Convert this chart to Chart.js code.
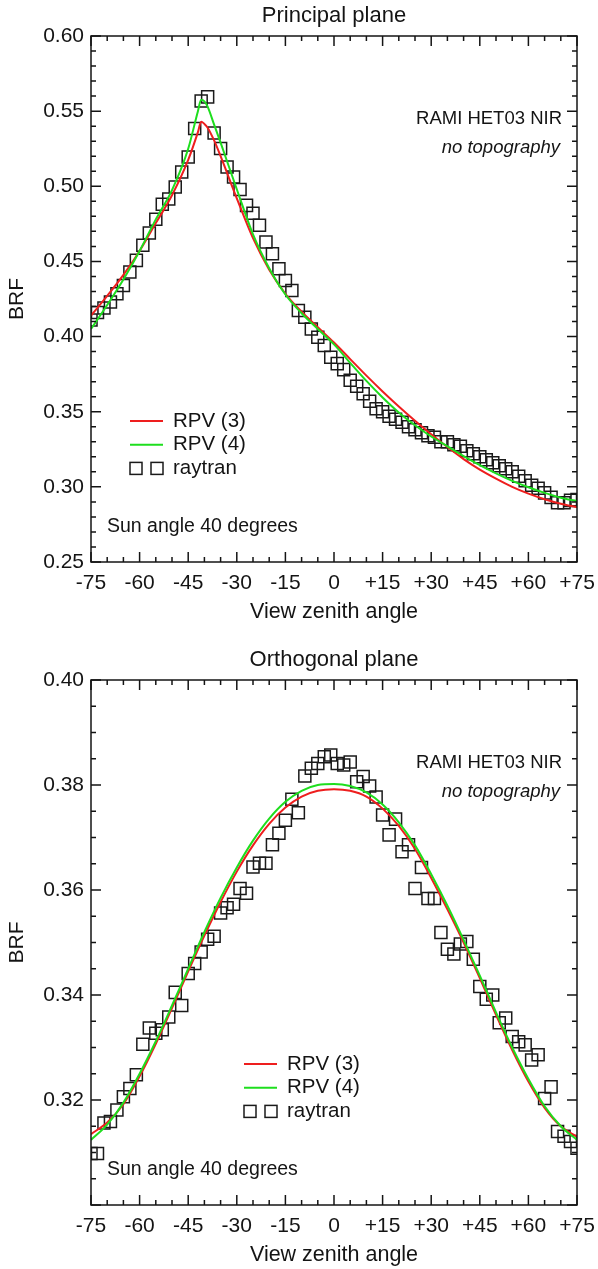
<!DOCTYPE html>
<html>
<head>
<meta charset="utf-8">
<title>RAMI HET03 NIR – RPV fits vs raytran</title>
<script src="https://cdn.jsdelivr.net/npm/chart.js@4.4.0/dist/chart.umd.min.js"></script>
<style>
  html, body { margin: 0; padding: 0; background: #fff; }
  .panel { position: absolute; left: 0; width: 598px; }
  canvas { display: block; }
</style>
</head>
<body>
<div class="panel" style="top:0;height:634px"><canvas id="principal" width="598" height="634"></canvas></div>
<div class="panel" style="top:634px;height:635px"><canvas id="orthogonal" width="598" height="635"></canvas></div>
<script>
'use strict';

/* ── Axis ticks ── */
const xTickValues = [-75, -60, -45, -30, -15, 0, 15, 30, 45, 60, 75];
const xTickLabels = ['-75', '-60', '-45', '-30', '-15', '0', '+15', '+30', '+45', '+60', '+75'];
const ppYTickValues = [0.25, 0.30, 0.35, 0.40, 0.45, 0.50, 0.55, 0.60];
const ppYTickLabels = ['0.25', '0.30', '0.35', '0.40', '0.45', '0.50', '0.55', '0.60'];
const opYTickValues = [0.30, 0.32, 0.34, 0.36, 0.38, 0.40];
const opYTickLabels = ['', '0.32', '0.34', '0.36', '0.38', '0.40'];

/* ── Principal plane ── */
const ppCurveAngle = [-75, -70, -65, -60, -55, -50, -45, -42, -41, -40, -39, -37, -35, -30, -25, -20, -15, -10, -5, 0,
                      5, 10, 15, 20, 25, 30, 35, 40, 45, 50, 55, 60, 65, 70, 75];
const ppRpv3 = [0.414, 0.427, 0.441, 0.457, 0.4755, 0.494, 0.5175, 0.536, 0.543, 0.5415, 0.539, 0.5305, 0.520, 0.492,
                0.4655, 0.4445, 0.4285, 0.4165, 0.4062, 0.396, 0.385, 0.374, 0.3635, 0.3535, 0.344, 0.335, 0.3265,
                0.3185, 0.3115, 0.3055, 0.300, 0.2955, 0.2918, 0.2888, 0.2865];
const ppRpv4 = [0.405, 0.421, 0.438, 0.457, 0.478, 0.4975, 0.525, 0.550, 0.5575, 0.5565, 0.553, 0.541, 0.529, 0.498,
                0.468, 0.4455, 0.428, 0.4155, 0.405, 0.3948, 0.3825, 0.3705, 0.3595, 0.3495, 0.341, 0.3335, 0.327,
                0.3205, 0.3145, 0.309, 0.304, 0.2997, 0.296, 0.2928, 0.2905];

const rayAngle = [-75, -73, -71, -69, -67, -65, -63, -61, -59, -57, -55, -53, -51, -49, -47, -45, -43, -41, -39, -37,
                  -35, -33, -31, -29, -27, -25, -23, -21, -19, -17, -15, -13, -11, -9, -7, -5, -3, -1,
                  1, 3, 5, 7, 9, 11, 13, 15, 17, 19, 21, 23, 25, 27, 29, 31, 33, 35, 37, 39,
                  41, 43, 45, 47, 49, 51, 53, 55, 57, 59, 61, 63, 65, 67, 69, 71, 73, 75];
const ppRaytran = [0.411, 0.416, 0.419, 0.423, 0.4285, 0.434, 0.443, 0.4507, 0.4607, 0.4689, 0.478, 0.488, 0.4915,
                   0.4995, 0.5095, 0.5195, 0.5385, 0.5567, 0.5595, 0.5355, 0.5251, 0.5129, 0.5062, 0.4978, 0.4873,
                   0.482, 0.474, 0.4629, 0.4551, 0.4451, 0.4373, 0.4307, 0.4173, 0.4129, 0.4051, 0.3995, 0.394, 0.3862,
                   0.382, 0.378, 0.371, 0.367, 0.362, 0.357, 0.352, 0.350, 0.347, 0.345, 0.343, 0.340, 0.338, 0.336,
                   0.334, 0.333, 0.330, 0.330, 0.328, 0.327, 0.324, 0.322, 0.320, 0.318, 0.316, 0.314, 0.312, 0.310,
                   0.307, 0.304, 0.301, 0.299, 0.296, 0.293, 0.2895, 0.2895, 0.291, 0.2915];

/* ── Orthogonal plane ── */
const opCurveAngle = [-75, -70, -65, -60, -55, -50, -45, -40, -35, -30, -25, -20, -15, -10, -5, 0,
                      5, 10, 15, 20, 25, 30, 35, 40, 45, 50, 55, 60, 65, 70, 75];
const opRpv3 = [0.3135, 0.3157, 0.3192, 0.3245, 0.3307, 0.3375, 0.3445, 0.3513, 0.3577, 0.3635, 0.3685, 0.3726,
                0.3757, 0.3778, 0.3789, 0.3792, 0.3789, 0.3778, 0.3755, 0.3722, 0.3678, 0.3623, 0.3563, 0.3500,
                0.3432, 0.3362, 0.3295, 0.3235, 0.3185, 0.3150, 0.3130];
const opRpv4 = [0.3124, 0.3153, 0.3195, 0.3250, 0.3312, 0.3380, 0.3450, 0.3520, 0.3585, 0.3643, 0.3694, 0.3736,
                0.3768, 0.3789, 0.3800, 0.3802, 0.3798, 0.3786, 0.3763, 0.3729, 0.3685, 0.3630, 0.3570, 0.3505,
                0.3437, 0.3367, 0.3300, 0.3240, 0.3188, 0.3150, 0.3124];
const opRaytran = [0.3098, 0.3098, 0.3156, 0.3159, 0.3181, 0.3206, 0.3222, 0.3248, 0.3306, 0.3337, 0.3327, 0.3334,
                   0.3358, 0.3405, 0.338, 0.3441, 0.346, 0.3482, 0.3506, 0.3512, 0.3556, 0.3566, 0.3573, 0.3603,
                   0.3594, 0.3644, 0.3651, 0.3651, 0.3686, 0.3708, 0.3733, 0.3773, 0.3747, 0.3817, 0.3832, 0.3841,
                   0.3854, 0.3857, 0.3841, 0.3838, 0.3844, 0.3806, 0.3816, 0.3798, 0.3777, 0.3743, 0.3705, 0.3735,
                   0.3673, 0.3686, 0.3603, 0.3643, 0.3584, 0.3584, 0.3519, 0.3487, 0.3478, 0.3497, 0.3502, 0.3468,
                   0.3416, 0.3392, 0.34, 0.3347, 0.3356, 0.3321, 0.3311, 0.3305, 0.3276, 0.3286, 0.3203, 0.3225,
                   0.314, 0.3131, 0.3121, 0.3108];

/* ── Style ── */
const INK   = '#141414';
const RED   = 'rgb(238,30,30)';
const GREEN = 'rgb(30,222,30)';
const FONT  = "'Liberation Sans', Arial, Helvetica, sans-serif";

function pairs(xs, ys) {
  return xs.map((x, i) => ({ x, y: ys[i] }));
}

/* ── Box with inward major/minor ticks on all four sides ── */
const frameTicks = {
  id: 'frameTicks',
  afterDatasetsDraw(chart, args, o) {
    const { ctx, chartArea: a, scales: { x, y } } = chart;
    ctx.save();
    ctx.strokeStyle = INK;
    ctx.lineWidth = 1.5;
    ctx.beginPath();

    const nx = Math.round((x.max - x.min) / o.xMinor);
    for (let i = 0; i <= nx; i++) {
      const px = x.getPixelForValue(x.min + i * o.xMinor);
      const len = i % o.xEvery === 0 ? 10 : 5;
      ctx.moveTo(px, a.bottom); ctx.lineTo(px, a.bottom - len);
      ctx.moveTo(px, a.top);    ctx.lineTo(px, a.top + len);
    }

    const ny = Math.round((y.max - y.min) / o.yMinor);
    for (let i = 0; i <= ny; i++) {
      const py = y.getPixelForValue(y.min + i * o.yMinor);
      const len = i % o.yEvery === 0 ? 10 : 5;
      ctx.moveTo(a.left, py);  ctx.lineTo(a.left + len, py);
      ctx.moveTo(a.right, py); ctx.lineTo(a.right - len, py);
    }
    ctx.stroke();
    ctx.strokeRect(a.left, a.top, a.width, a.height);
    ctx.restore();
  }
};

/* ── Title, annotations + in-plot legend ── */
const notes = {
  id: 'notes',
  afterDraw(chart, args, o) {
    const { ctx, chartArea: a } = chart;
    ctx.save();
    ctx.fillStyle = INK;

    // panel title, centred on the plot box
    ctx.textAlign = 'center';
    ctx.textBaseline = 'alphabetic';
    ctx.font = `22px ${FONT}`;
    ctx.fillText(o.title, (a.left + a.right) / 2, a.top - 14);

    ctx.textAlign = 'right';
    ctx.font = `18.5px ${FONT}`;
    ctx.fillText('RAMI HET03 NIR', a.right - 15, a.top + 88);
    ctx.font = `italic 18.5px ${FONT}`;
    ctx.fillText('no topography', a.right - 17, a.top + 117);

    ctx.textAlign = 'left';
    ctx.textBaseline = 'middle';
    ctx.font = `19.5px ${FONT}`;
    ctx.fillText('Sun angle 40 degrees', a.left + 16, a.bottom - 35);

    // legend
    ctx.font = `20.5px ${FONT}`;
    const x0 = o.legendX, x1 = o.legendX + 33;
    chart.data.datasets.forEach((ds, i) => {
      const yy = a.bottom - 141 + i * 23.7;
      if (ds.showLine === false) {
        ctx.strokeStyle = ds.pointBorderColor;
        ctx.lineWidth = ds.pointBorderWidth;
        const s = 12;
        ctx.strokeRect(x0 + 6 - s / 2, yy - s / 2, s, s);
        ctx.strokeRect(x1 - 6 - s / 2, yy - s / 2, s, s);
      } else {
        ctx.strokeStyle = ds.borderColor;
        ctx.lineWidth = ds.borderWidth;
        ctx.beginPath();
        ctx.moveTo(x0, yy); ctx.lineTo(x1, yy);
        ctx.stroke();
      }
      ctx.fillText(ds.label, x1 + 10, yy);
    });
    ctx.restore();
  }
};

function buildPanel(id, cfg) {
  return new Chart(document.getElementById(id), {
    type: 'line',
    data: {
      datasets: [
        { label: 'RPV (3)', data: pairs(cfg.curveAngle, cfg.rpv3), borderColor: RED, borderWidth: 2,
          pointRadius: 0, cubicInterpolationMode: 'monotone', order: 2, clip: 0 },
        { label: 'RPV (4)', data: pairs(cfg.curveAngle, cfg.rpv4), borderColor: GREEN, borderWidth: 2,
          pointRadius: 0, cubicInterpolationMode: 'monotone', order: 1, clip: 0 },
        { label: 'raytran', data: pairs(rayAngle, cfg.raytran), showLine: false, pointStyle: 'rect',
          pointRadius: 8.5, pointBorderWidth: 1.5, pointBorderColor: '#1a1a1a',
          pointBackgroundColor: 'rgba(0,0,0,0)', order: 3, clip: 0 },
      ],
    },
    options: {
      responsive: false,
      animation: false,
      devicePixelRatio: 1,
      events: [],
      layout: { padding: { left: 0, right: 21, top: cfg.plotTop, bottom: 0 } },
      plugins: {
        legend:  { display: false },
        tooltip: { enabled: false },
        title:   { display: false },
        frameTicks: { xMinor: 5, xEvery: 3, yMinor: cfg.yMinor, yEvery: cfg.yEvery },
        notes: { title: cfg.title, legendX: cfg.legendX },
      },
      scales: {
        x: {
          type: 'linear',
          min: -75,
          max: 75,
          afterBuildTicks: s => { s.ticks = xTickValues.map(v => ({ value: v })); },
          afterFit: s => { s.height = cfg.xAxisHeight; s.paddingLeft = 0; s.paddingRight = 0; },
          grid:   { display: false, drawTicks: false },
          border: { display: false },
          ticks: {
            autoSkip: false, maxRotation: 0, padding: 9, color: INK,
            font: { family: FONT, size: 21 },
            callback: (v, i) => xTickLabels[i],
          },
          title: {
            display: true, text: 'View zenith angle', color: INK,
            font: { family: FONT, size: 21.5 },
            padding: { top: 0, bottom: cfg.xTitlePad },
          },
        },
        y: {
          type: 'linear',
          min: cfg.yMin,
          max: cfg.yMax,
          afterBuildTicks: s => { s.ticks = cfg.yTicks.map(v => ({ value: v })); },
          afterFit: s => { s.width = 91; s.paddingTop = 0; s.paddingBottom = 0; },
          grid:   { display: false, drawTicks: false },
          border: { display: false },
          ticks: {
            padding: 7, color: INK,
            font: { family: FONT, size: 21 },
            callback: (v, i) => cfg.yLabels[i],
          },
          title: {
            display: true, text: 'BRF', color: INK,
            font: { family: FONT, size: 21 },
            padding: { top: 5, bottom: 0 },
          },
        },
      },
    },
    plugins: [frameTicks, notes],
  });
}

buildPanel('principal', {
  title: 'Principal plane', plotTop: 36,
  curveAngle: ppCurveAngle, rpv3: ppRpv3, rpv4: ppRpv4, raytran: ppRaytran,
  yMin: 0.25, yMax: 0.60, yTicks: ppYTickValues, yLabels: ppYTickLabels, yMinor: 0.01, yEvery: 5,
  xAxisHeight: 72, xTitlePad: 9, legendX: 130,
});

buildPanel('orthogonal', {
  title: 'Orthogonal plane', plotTop: 46,
  curveAngle: opCurveAngle, rpv3: opRpv3, rpv4: opRpv4, raytran: opRaytran,
  yMin: 0.30, yMax: 0.40, yTicks: opYTickValues, yLabels: opYTickLabels, yMinor: 0.005, yEvery: 4,
  xAxisHeight: 64, xTitlePad: 1, legendX: 244,
});
</script>
</body>
</html>
